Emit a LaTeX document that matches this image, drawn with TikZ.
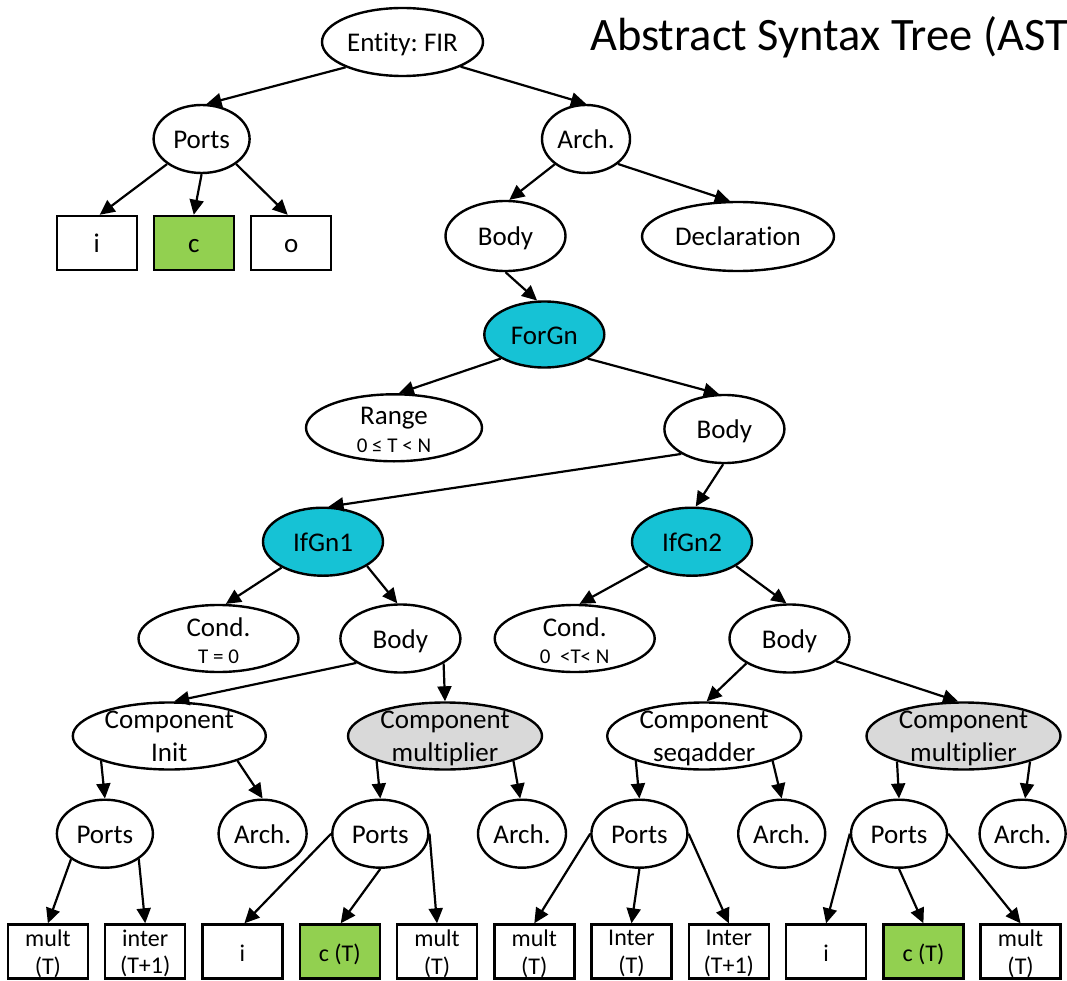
\documentclass[tikz,border=0pt]{standalone}
\usepackage{fontspec}
\setmainfont{Carlito}[Ligatures={NoCommon}]
\usetikzlibrary{shapes.geometric,arrows.meta}

\definecolor{gnfill}{HTML}{16C2D5}
\definecolor{portgreen}{HTML}{92D050}
\definecolor{compgrey}{HTML}{D9D9D9}

\tikzset{
  shp/.style={draw=black, line width=2.4pt, fill=white, inner sep=0pt},
  ell/.style={shp, ellipse, minimum height=68, minimum width=#1},
  box/.style={shp, rectangle, minimum width=80, minimum height=54},
  lbl/.style={font=\fontsize{27}{32.2}\selectfont, inner sep=0pt, text height=19pt, text depth=0pt},
  lbltwo/.style={font=\fontsize{27}{32.2}\selectfont, inner sep=0pt, align=center, yshift=-2.5pt},
  boxlbl/.style={font=\fontsize{24}{27.7}\selectfont, inner sep=0pt, text height=20pt, text depth=0pt},
  boxlbltwo/.style={font=\fontsize{24}{27.7}\selectfont, inner sep=0pt, align=center, yshift=-2pt},
  conn/.style={line width=2.2pt, -{Triangle[length=15pt,width=14pt]}},
  title/.style={font=\fontsize{46.5}{55}\selectfont, inner sep=0pt, anchor=base west},
}
\newcommand\subline{\fontsize{21}{24}\selectfont}
\frenchspacing

\begin{document}
\begin{tikzpicture}[x=1pt, y=-1pt]
\useasboundingbox (0,0) rectangle (1067,981);
\clip (0,0) rectangle (1067,981);

% heading
\node[title] (head) at (590,51) {Abstract Syntax Tree (AST)};

% entity level
\node[ell=161, label={[lbl]center:{Entity: FIR}}] (ent) at (402.5,42) {};
\node[ell=96, label={[lbl]center:Ports}] (portsA) at (201.6,139) {};
\node[ell=88, label={[lbl]center:Arch.}] (archA) at (586,139) {};
\node[box, label={[lbl]center:i}] (ti) at (96.7,243) {};
\node[box, fill=portgreen, label={[lbl]center:c}] (tc) at (193.8,243) {};
\node[box, label={[lbl]center:o}] (to) at (291.2,243) {};
\node[ell=120, minimum height=70, label={[lbl]center:Body}] (bodyA) at (505.5,236) {};
\node[ell=192, minimum height=69, label={[lbl]center:Declaration}] (decl) at (738,236.5) {};

% generate level
\node[ell=120, minimum height=66, fill=gnfill, label={[lbl]center:ForGn}] (forgn) at (544.3,334.5) {};
\node[ell=176, minimum height=67, label={[lbltwo]center:{Range\\[-4pt]\subline 0 ≤ T < N}}] (range) at (394,427.8) {};
\node[ell=120, label={[lbl]center:Body}] (bodyB) at (724.4,429) {};
\node[ell=120, fill=gnfill, label={[lbl]center:IfGn1}] (ifgn1) at (323,541.7) {};
\node[ell=120, fill=gnfill, label={[lbl]center:IfGn2}] (ifgn2) at (692,541.7) {};
\node[ell=160, minimum height=67, label={[lbltwo]center:{Cond.\\[-5.5pt]\subline T = 0}}] (cond1) at (218.5,638.5) {};
\node[ell=120, label={[lbl]center:Body}] (body1) at (400.4,638.5) {};
\node[ell=160, minimum height=67, label={[lbltwo]center:{Cond.\\[-5.5pt]\subline 0~~<T< N}}] (cond2) at (574.7,638.5) {};
\node[ell=120, label={[lbl]center:Body}] (body2) at (789.5,638.5) {};

% component level
\node[ell=193, minimum height=67, label={[lbltwo]center:{Component\\Init\vphantom{p}}}] (init) at (169.3,736) {};
\node[ell=194, minimum height=67, fill=compgrey, label={[lbltwo]center:{Component\\multiplier}}] (mul1) at (445,736) {};
\node[ell=194, minimum height=67, label={[lbltwo]center:{Component\\seqadder}}] (seq) at (704.2,736) {};
\node[ell=194, minimum height=67, fill=compgrey, label={[lbltwo]center:{Component\\multiplier}}] (mul2) at (963.5,736) {};

% ports and architectures of the components
\node[ell=96, label={[lbl]center:Ports}] (p1) at (104.9,833.7) {};
\node[ell=88, label={[lbl]center:Arch.}] (a1) at (262.6,833.7) {};
\node[ell=96, label={[lbl]center:Ports}] (p2) at (380.3,833.7) {};
\node[ell=88, label={[lbl]center:Arch.}] (a2) at (522,833.7) {};
\node[ell=96, label={[lbl]center:Ports}] (p3) at (639.4,833.7) {};
\node[ell=87, label={[lbl]center:Arch.}] (a3) at (781.7,833.7) {};
\node[ell=96, label={[lbl]center:Ports}] (p4) at (899,833.7) {};
\node[ell=86, label={[lbl]center:Arch.}] (a4) at (1022.6,833.7) {};

% signals
\node[box, label={[boxlbltwo]center:{mult\\(T)}}] (b1) at (47.9,951.5) {};
\node[box, label={[boxlbltwo]center:{inter\\(T+1)}}] (b2) at (145.2,951.5) {};
\node[box, label={[boxlbl]center:i}] (b3) at (242.4,951.5) {};
\node[box, fill=portgreen, label={[boxlbl]center:c (T)}] (b4) at (339.7,951.5) {};
\node[box, label={[boxlbltwo]center:{mult\\(T)}}] (b5) at (437.0,951.5) {};
\node[box, label={[boxlbltwo]center:{mult\\(T)}}] (b6) at (534.3,951.5) {};
\node[box, label={[boxlbltwo]center:{Inter\\(T)}}] (b7) at (631.5,951.5) {};
\node[box, label={[boxlbltwo]center:{Inter\\(T+1)}}] (b8) at (728.8,951.5) {};
\node[box, label={[boxlbl]center:i}] (b9) at (826.1,951.5) {};
\node[box, fill=portgreen, label={[boxlbl]center:c (T)}] (b10) at (923.4,951.5) {};
\node[box, label={[boxlbltwo]center:{mult\\(T)}}] (b11) at (1020.6,951.5) {};

% tree edges
\draw[conn] (ent.204) -- (portsA.82);
\draw[conn] (ent.337) -- (archA.90);
\draw[conn] (portsA.216) -- (ti.84);
\draw[conn] (portsA.270) -- (tc.90);
\draw[conn] (portsA.324) -- (to.97);
\draw[conn] (archA.219) -- (bodyA.84);
\draw[conn] (archA.322) -- (decl.103);
\draw[conn] (bodyA.270) -- (forgn.102);
\draw[conn] (forgn.209) -- (range.82);
\draw[conn] (forgn.331) -- (bodyB.99);
\draw[conn] (bodyB.210) -- (ifgn1.81);
\draw[conn] (bodyB.268) -- (ifgn2.84);
\draw[conn] (ifgn1.212) -- (cond1.78);
\draw[conn] (ifgn1.331) -- (body1.95);
\draw[conn] (ifgn2.209) -- (cond2.82);
\draw[conn] (ifgn2.331) -- (body2.95);
\draw[conn] (body1.209) -- (init.82);
\draw[conn] (body1.330) -- (mul1.90);
\draw[conn] (body2.210) -- (seq.86);
\draw[conn] (body2.334) -- (mul2.99);
\draw[conn] (init.200) -- (p1.90);
\draw[conn] (init.340) -- (a1.90);
\draw[conn] (mul1.200) -- (p2.90);
\draw[conn] (mul1.340) -- (a2.93);
\draw[conn] (seq.200) -- (p3.90);
\draw[conn] (seq.340) -- (a3.90);
\draw[conn] (mul2.201) -- (p4.90);
\draw[conn] (mul2.339) -- (a4.86);
\draw[conn] (p1.217) -- (b1.90);
\draw[conn] (p1.323) -- (b2.90);
\draw[conn] (p2.180) -- (b3.86);
\draw[conn] (p2.270) -- (b4.88);
\draw[conn] (p2.0) -- (b5.90);
\draw[conn] (p3.180) -- (b6.90);
\draw[conn] (p3.270) -- (b7.90);
\draw[conn] (p3.0) -- (b8.90);
\draw[conn] (p4.180) -- (b9.90);
\draw[conn] (p4.270) -- (b10.90);
\draw[conn] (p4.0) -- (b11.90);
\end{tikzpicture}
\end{document}
